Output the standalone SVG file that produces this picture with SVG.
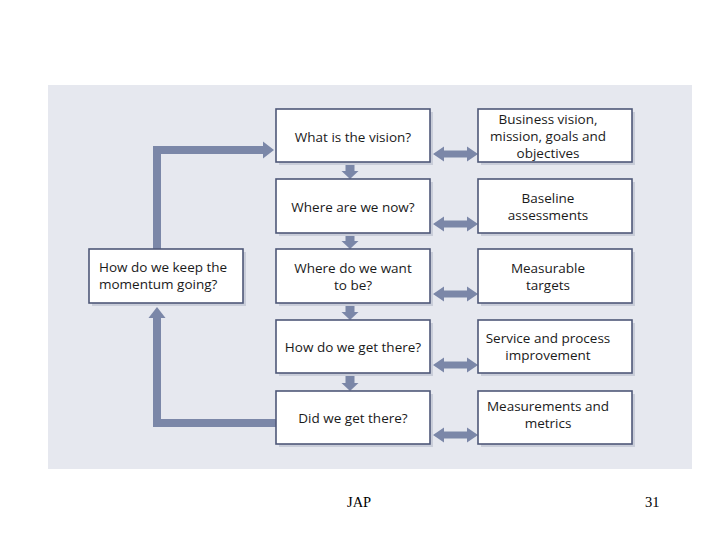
<svg xmlns="http://www.w3.org/2000/svg" width="720" height="540" viewBox="0 0 720 540">
<style>
.box{fill:#ffffff;stroke:#4f5878;stroke-width:1.6}
.sh{fill:#c9cdd9}
.t{font-family:"Open Sans","Noto Sans",sans-serif;font-size:13.5px;fill:#1a1a1a}
.c{text-anchor:middle}
.arr{fill:#7b87a8}
.line{fill:none;stroke:#7b87a8;stroke-width:8;stroke-linejoin:miter}
.foot{font-family:"Liberation Serif","Times New Roman",serif;font-size:14.5px;fill:#000}
</style>
<rect x="0" y="0" width="720" height="540" fill="#ffffff"/>
<rect x="48" y="85" width="644" height="384" fill="#e6e8ef"/>

<g id="connectors">
  <path class="line" d="M157,249 V150 H265"/>
  <polygon class="arr" points="263,141.5 274,150 263,158.5"/>
  <path class="line" d="M276,423 H157 V317"/>
  <polygon class="arr" points="148.5,318 157,307 165.5,318"/>
  <polygon class="arr" points="345.5,165 354.5,165 354.5,171 358.5,171 350,179 341.5,171 345.5,171"/>
  <polygon class="arr" points="345.5,236 354.5,236 354.5,241 358.5,241 350,249 341.5,241 345.5,241"/>
  <polygon class="arr" points="345.5,306 354.5,306 354.5,312 358.5,312 350,320 341.5,312 345.5,312"/>
  <polygon class="arr" points="345.5,376 354.5,376 354.5,383 358.5,383 350,391 341.5,383 345.5,383"/>
  <polygon class="arr" points="433,154 444,146.5 444,150.5 467,150.5 467,146.5 478,154 467,161.5 467,157.5 444,157.5 444,161.5"/>
  <polygon class="arr" points="433,224 444,216.5 444,220.5 467,220.5 467,216.5 478,224 467,231.5 467,227.5 444,227.5 444,231.5"/>
  <polygon class="arr" points="433,294 444,286.5 444,290.5 467,290.5 467,286.5 478,294 467,301.5 467,297.5 444,297.5 444,301.5"/>
  <polygon class="arr" points="433,365 444,357.5 444,361.5 467,361.5 467,357.5 478,365 467,372.5 467,368.5 444,368.5 444,372.5"/>
  <polygon class="arr" points="433,435 444,427.5 444,431.5 467,431.5 467,427.5 478,435 467,442.5 467,438.5 444,438.5 444,442.5"/>
</g>

<g id="n-vision">
  <rect class="sh" x="279" y="112" width="154" height="53"/>
  <rect class="box" x="276" y="109" width="154" height="53"/>
  <text class="t c" x="353" y="142">What is the vision?</text>
</g>
<g id="n-now">
  <rect class="sh" x="279" y="182" width="154" height="54"/>
  <rect class="box" x="276" y="179" width="154" height="54"/>
  <text class="t c" x="353" y="212">Where are we now?</text>
</g>
<g id="n-want">
  <rect class="sh" x="279" y="252" width="154" height="54"/>
  <rect class="box" x="276" y="249" width="154" height="54"/>
  <text class="t c" x="353" y="273">Where do we want</text>
  <text class="t c" x="353" y="290">to be?</text>
</g>
<g id="n-get">
  <rect class="sh" x="279" y="323" width="154" height="53"/>
  <rect class="box" x="276" y="320" width="154" height="53"/>
  <text class="t c" x="353" y="352">How do we get there?</text>
</g>
<g id="n-did">
  <rect class="sh" x="279" y="394" width="154" height="53"/>
  <rect class="box" x="276" y="391" width="154" height="53"/>
  <text class="t c" x="353" y="423">Did we get there?</text>
</g>

<g id="n-business">
  <rect class="sh" x="481" y="112" width="154" height="53"/>
  <rect class="box" x="478" y="109" width="154" height="53"/>
  <text class="t c" x="548" y="123.5">Business vision,</text>
  <text class="t c" x="548" y="140.5">mission, goals and</text>
  <text class="t c" x="548" y="157.5">objectives</text>
</g>
<g id="n-baseline">
  <rect class="sh" x="481" y="182" width="154" height="54"/>
  <rect class="box" x="478" y="179" width="154" height="54"/>
  <text class="t c" x="548" y="203">Baseline</text>
  <text class="t c" x="548" y="220">assessments</text>
</g>
<g id="n-targets">
  <rect class="sh" x="481" y="252" width="154" height="54"/>
  <rect class="box" x="478" y="249" width="154" height="54"/>
  <text class="t c" x="548" y="273">Measurable</text>
  <text class="t c" x="548" y="290">targets</text>
</g>
<g id="n-service">
  <rect class="sh" x="481" y="323" width="154" height="53"/>
  <rect class="box" x="478" y="320" width="154" height="53"/>
  <text class="t c" x="548" y="343">Service and process</text>
  <text class="t c" x="548" y="360">improvement</text>
</g>
<g id="n-metrics">
  <rect class="sh" x="481" y="394" width="154" height="53"/>
  <rect class="box" x="478" y="391" width="154" height="53"/>
  <text class="t c" x="548" y="411">Measurements and</text>
  <text class="t c" x="548" y="428">metrics</text>
</g>

<g id="n-momentum">
  <rect class="sh" x="92" y="252" width="154" height="54"/>
  <rect class="box" x="89" y="249" width="154" height="54"/>
  <text class="t" x="99" y="272">How do we keep the</text>
  <text class="t" x="99" y="289">momentum going?</text>
</g>

<text class="foot" x="347" y="507">JAP</text>
<text class="foot" x="645" y="507">31</text>
</svg>
